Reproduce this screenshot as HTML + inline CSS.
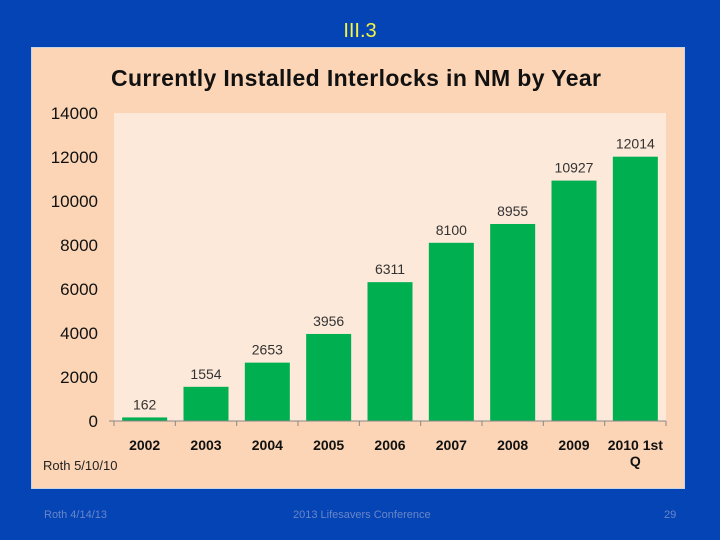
<!DOCTYPE html>
<html><head><meta charset="utf-8"><style>
html,body{margin:0;padding:0;}
body{width:720px;height:540px;background:#0544b4;position:relative;overflow:hidden;font-family:"Liberation Sans",sans-serif;}
.abs{position:absolute;}
</style></head><body>
<div class="abs" style="left:0;width:720px;top:20px;text-align:center;color:#f5f542;font-size:20px;">III.3</div>
<div class="abs" style="left:31px;top:47px;width:652px;height:440px;background:#fbd5b5;border:1px solid #c9d3e6;"></div>
<svg class="abs" style="left:0;top:0" width="720" height="540">
<text x="356" y="86" text-anchor="middle" font-size="23" font-weight="bold" fill="#111" font-family="Liberation Sans Narrow, Liberation Sans, sans-serif" textLength="490">Currently Installed Interlocks in NM by Year</text>
<rect x="114" y="113" width="552" height="308" fill="#fde9d9"/>
<g id="g"></g>
<text x="43" y="470" font-size="13" fill="#222">Roth  5/10/10</text>
</svg>
<div class="abs" style="left:44px;top:509px;color:#6a86c8;font-size:11px;">Roth 4/14/13</div>
<div class="abs" style="left:293px;top:509px;color:#6a86c8;font-size:11px;">2013 Lifesavers Conference</div>
<div class="abs" style="left:664px;top:509px;color:#6a86c8;font-size:11px;">29</div>
<script>
const categories=["2002","2003","2004","2005","2006","2007","2008","2009","2010 1st|Q"];
const values=[162,1554,2653,3956,6311,8100,8955,10927,12014];
const yTicks=[0,2000,4000,6000,8000,10000,12000,14000];
const NS="http://www.w3.org/2000/svg";
const g=document.getElementById('g');
const x0=114,x1=666,yb=421,yt=113,ymax=14000;
const bw=(x1-x0)/categories.length;
const y=v=>yb-(v/ymax)*(yb-yt);
function mk(t,a){const e=document.createElementNS(NS,t);for(const k in a)e.setAttribute(k,a[k]);g.appendChild(e);return e;}
yTicks.forEach(t=>{
 const e=mk('text',{x:98,y:y(t)+6,'text-anchor':'end','font-size':17,fill:'#111'});
 e.textContent=t;
 
 
});
values.forEach((v,i)=>{
 const cx=x0+bw*(i+0.5);
 const r=mk('rect',{x:cx-22.5,y:y(v),width:45,height:yb-y(v),fill:'#00b050'});
 
 
 const l=mk('text',{x:cx,y:y(v)-8,'text-anchor':'middle','font-size':14,fill:'#333'});
 l.textContent=v;
 
 
 const parts=categories[i].split('|');
 parts.forEach((p,j)=>{
  const c=mk('text',{x:cx,y:450+j*16,'text-anchor':'middle','font-size':14,'font-weight':'bold',fill:'#111'});
  c.textContent=p;
  
  
 });
});
const ax=mk('line',{x1:x0,y1:yb,x2:x1,y2:yb,stroke:'#888','stroke-width':1});


for(let i=0;i<=categories.length;i++){
 const tx=x0+bw*i;
 const t=mk('line',{x1:tx,y1:yb,x2:tx,y2:yb+5,stroke:'#888'});
 
 
}
const yt0=mk('line',{x1:x0-5,y1:yb,x2:x0,y2:yb,stroke:'#888'});


</script>
</body></html>
